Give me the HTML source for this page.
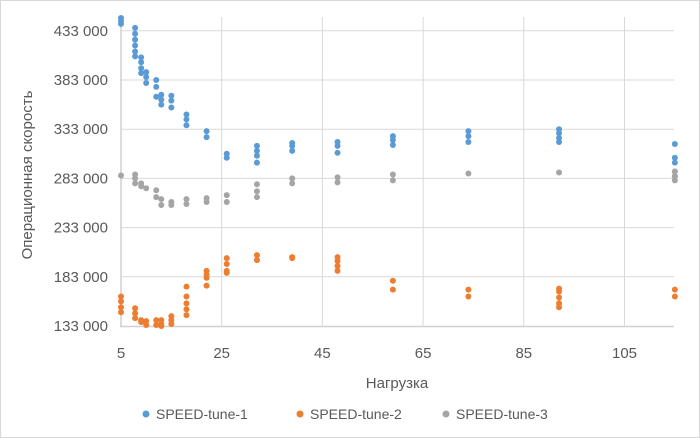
<!DOCTYPE html>
<html><head><meta charset="utf-8"><style>
body{margin:0;background:#fff;}
svg{display:block;font-family:"Liberation Sans",sans-serif;}
</style></head><body>
<svg id="chart" width="700" height="438">
<rect x="0.5" y="0.5" width="699" height="437" fill="#fff" stroke="#d9d9d9"/>
<g id="grid"></g><g id="pts"></g><g id="ticks"></g>
<text x="397" y="388" text-anchor="middle" font-size="15" fill="#595959">Нагрузка</text>
<text transform="translate(32,175) rotate(-90)" text-anchor="middle" font-size="15" fill="#595959">Операционная скорость</text>
<g>
<g><circle cx="146" cy="414" r="3.5" fill="#5b9bd5"/><text x="156" y="419" font-size="14" fill="#595959">SPEED-tune-1</text></g>
<g><circle cx="300" cy="414" r="3.5" fill="#ed7d31"/><text x="310" y="419" font-size="14" fill="#595959">SPEED-tune-2</text></g>
<g><circle cx="446" cy="414" r="3.5" fill="#a5a5a5"/><text x="456" y="419" font-size="14" fill="#595959">SPEED-tune-3</text></g>
</g>
</svg>
<script>
const xs=[5,7.8,9,10,12,13,15,18,22,26,32,39,48,59,74,92,115];
const s1=[[446000,443000,440000],[436000,430000,424000,418000,412000,407000],[406000,401000,395000,390000],[391000,386000,380000],[383000,376000,366000],[368000,363000,358000],[367000,362000,355000],[348000,343000,337000],[331000,325000],[308000,304000],[316000,311000,306000,299000],[319000,316000,311000],[320000,316000,309000],[326000,322000,317000],[331000,326000,320000],[333000,329000,324000,320000],[318000,304000,299000,290000,285000]];
const s2=[[163000,158000,152000,147000],[151000,146000,141000],[139000,137000],[138000,134000],[139000,134000],[139000,133000,135000],[143000,139000,135000],[173000,163000,156000,150000,144000],[189000,185000,182000,174000],[202000,196000,189000,187000],[205000,200000],[203000,202000],[203000,199000,194000,189000],[179000,170000],[170000,163000],[171000,168000,162000,156000,152000],[170000,163000]];
const s3=[[286000],[287000,283000,278000],[278000,275000],[273000],[271000,264000],[262000,256000],[259000,256000],[262000,257000],[263000,259000],[266000,259000],[277000,270000,264000],[283000,278000],[284000,279000],[287000,281000],[288000],[289000],[290000,285000,281000]];
const xTicks=[5,25,45,65,85,105];
const yTicks=[133000,183000,233000,283000,333000,383000,433000];
const X=v=>121+(v-5)*100.7/20;
const Y=v=>326-(v-133000)*49.2/50000;
const NS="http://www.w3.org/2000/svg";
function mk(t,a,p){const e=document.createElementNS(NS,t);for(const k in a)e.setAttribute(k,a[k]);p.appendChild(e);return e;}
const grid=document.getElementById('grid'),ticks=document.getElementById('ticks'),pts=document.getElementById('pts');
yTicks.forEach(v=>{if(v>133000){const l=mk('line',{x1:121,x2:674,y1:Y(v),y2:Y(v),stroke:'#d9d9d9','stroke-width':1},grid);

}
const t=mk('text',{x:108,y:Y(v)+5,'text-anchor':'end','font-size':15,fill:'#595959'},ticks);t.textContent=v.toLocaleString('ru-RU').replace(/\s/g,' ');

});
xTicks.forEach(v=>{if(v>5){const l=mk('line',{x1:X(v),x2:X(v),y1:17,y2:326,stroke:'#d9d9d9','stroke-width':1},grid);

}
const t=mk('text',{x:X(v),y:358,'text-anchor':'middle','font-size':15,fill:'#595959'},ticks);t.textContent=v;

});
const ya=mk('line',{x1:121,x2:121,y1:17,y2:327,stroke:'#d0d0d0','stroke-width':1.5},grid);


const xa=mk('line',{x1:120,x2:674,y1:326.5,y2:326.5,stroke:'#d0d0d0','stroke-width':1.5},grid);


[[s1,'#5b9bd5','series-1'],[s2,'#ed7d31','series-2'],[s3,'#a5a5a5','series-3']].forEach(([s,c,n])=>{
s.forEach((col,i)=>col.forEach(v=>{const p=mk('circle',{cx:X(xs[i]),cy:Y(v),r:3,fill:c},pts);

}));});
</script>
</body></html>
